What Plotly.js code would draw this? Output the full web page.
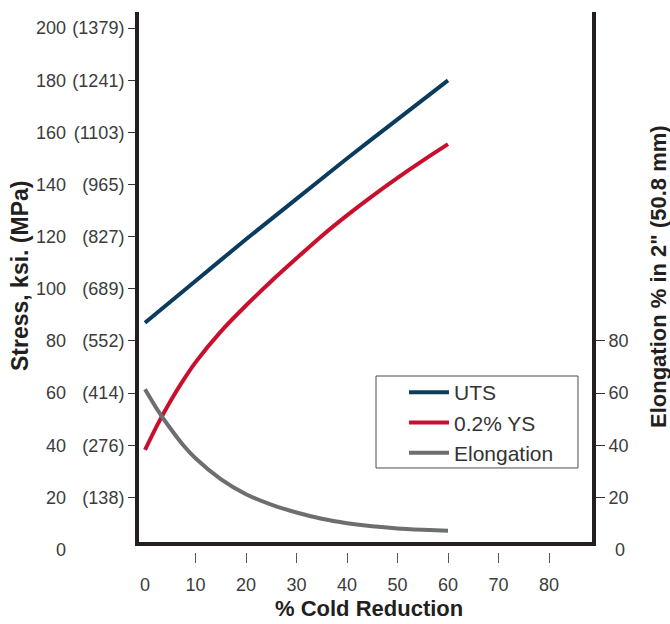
<!DOCTYPE html>
<html>
<head>
<meta charset="utf-8">
<script src="https://cdn.plot.ly/plotly-3.0.1.min.js"></script>
<style>html,body{margin:0;padding:0;background:#fff;}#chart{width:670px;height:624px;}</style>
</head>
<body>
<div id="chart"></div>
<script>
// ---- data ----
const utsX = [0, 10, 20, 30, 40, 50, 60];
const utsY = [87, 103, 119, 134.5, 150, 165, 180];

const ysX = [0, 2.5, 5, 7.5, 10, 15, 20, 25, 30, 35, 40, 45, 50, 55, 60];
const ysY = [38.2, 48, 56.8, 64.7, 71.8, 83.6, 93.6, 102.9, 111.7, 120.3, 128.2, 135.6, 142.6, 149.2, 155.5];

const elX = [0, 2.5, 5, 7.5, 10, 15, 20, 25, 30, 35, 40, 45, 50, 55, 60];
const elY = [61.5, 53.5, 46.5, 40.2, 35, 27, 21.2, 17.2, 14.2, 11.8, 10.1, 8.9, 8.1, 7.6, 7.2];

const xTicks = [10, 20, 30, 40, 50, 60, 70, 80];
const ksiTicks = [0, 20, 40, 60, 80, 100, 120, 140, 160, 180, 200];
const mpaTicks = [20, 40, 60, 80, 100, 120, 140, 160, 180, 200];
const mpaLabels = ["(138)", "(276)", "(414)", "(552)", "(689)", "(827)", "(965)", "(1103)", "(1241)", "(1379)"];
const elTicks = [20, 40, 60, 80];

const seriesNames = ["UTS", "0.2% YS", "Elongation"];
const colors = ["#0b3c5d", "#c8102e", "#6d6e70"];

// ---- chart ----
const FONT = "Liberation Sans, Arial, sans-serif";
const tickFont = {family: FONT, size: 18, color: "#3c3c3c"};
const titleFont = {family: FONT, size: 22, color: "#231f20", weight: "bold"};
const yRange = [-0.959, 206.2];
const xRange = [-1.584, 88.91];

const traces = [
  {x: utsX, y: utsY, name: seriesNames[0], type: "scatter", mode: "lines",
   line: {color: colors[0], width: 4, shape: "spline", smoothing: 0.8}, xaxis: "x", yaxis: "y"},
  {x: ysX, y: ysY, name: seriesNames[1], type: "scatter", mode: "lines",
   line: {color: colors[1], width: 4, shape: "spline", smoothing: 0.8}, xaxis: "x", yaxis: "y"},
  {x: elX, y: elY, name: seriesNames[2], type: "scatter", mode: "lines",
   line: {color: colors[2], width: 4, shape: "spline", smoothing: 0.8}, xaxis: "x", yaxis: "y2"},
  // empty helper traces so the label-only axes get drawn
  {x: [], y: [], type: "scatter", mode: "lines", showlegend: false, hoverinfo: "skip", xaxis: "x", yaxis: "y3"},
  {x: [], y: [], type: "scatter", mode: "lines", showlegend: false, hoverinfo: "skip", xaxis: "x", yaxis: "y4"},
  {x: [], y: [], type: "scatter", mode: "lines", showlegend: false, hoverinfo: "skip", xaxis: "x3", yaxis: "y"}
];

const noGrid = {showgrid: false, zeroline: false, showline: false, fixedrange: true};

const layout = {
  width: 670, height: 624,
  margin: {l: 40, r: 76, t: 12, b: 72},
  paper_bgcolor: "#fff", plot_bgcolor: "#fff",
  showlegend: true,
  legend: {
    x: 0.657, y: 0.3333, xanchor: "left", yanchor: "top",
    bgcolor: "rgba(0,0,0,0)", borderwidth: 0,
    font: {family: FONT, size: 21, color: "#333"},
    itemwidth: 40
  },
  xaxis: Object.assign({}, noGrid, {
    domain: [0.1751, 1], range: xRange, anchor: "free", position: 0,
    tickmode: "array", tickvals: xTicks, ticktext: xTicks.map(String),
    ticks: "outside", ticklen: 10, tickwidth: 1, tickcolor: "#555",
    ticklabelstandoff: 6, tickfont: tickFont
  }),
  xaxis3: Object.assign({}, noGrid, {
    overlaying: "x", range: xRange, anchor: "free", position: 0,
    tickmode: "array", tickvals: [0], ticktext: ["0"], ticks: "",
    ticklabelstandoff: 20, tickfont: tickFont
  }),
  yaxis: Object.assign({}, noGrid, {
    domain: [0, 1], range: yRange, anchor: "x", side: "left",
    tickmode: "array", tickvals: mpaTicks, ticktext: mpaLabels,
    ticks: "outside", ticklen: 8, tickwidth: 1, tickcolor: "#333",
    tickfont: tickFont
  }),
  yaxis3: Object.assign({}, noGrid, {
    overlaying: "y", range: yRange, anchor: "free", position: 0.0469, side: "left",
    tickmode: "array", tickvals: ksiTicks, ticktext: ksiTicks.map(String), ticks: "",
    tickfont: tickFont
  }),
  yaxis2: Object.assign({}, noGrid, {
    overlaying: "y", range: yRange, anchor: "x", side: "right",
    tickmode: "array", tickvals: elTicks, ticktext: elTicks.map(String),
    ticks: "outside", ticklen: 10, tickwidth: 1, tickcolor: "#333",
    tickfont: tickFont
  }),
  yaxis4: Object.assign({}, noGrid, {
    overlaying: "y", range: yRange, anchor: "x", side: "right",
    tickmode: "array", tickvals: [0], ticktext: ["0"], ticks: "",
    ticklabelstandoff: 20, tickfont: tickFont
  }),
  shapes: [
    {type: "line", xref: "x domain", yref: "paper", x0: 0, x1: 0, y0: 1, y1: 0.0111,
     line: {color: "#231f20", width: 4}},
    {type: "line", xref: "x domain", yref: "paper", x0: 1, x1: 1, y0: 1, y1: 0.0111,
     line: {color: "#231f20", width: 4}},
    {type: "line", xref: "x domain", yref: "paper", x0: -0.0044, x1: 1.0044, y0: 0.0148, y1: 0.0148,
     line: {color: "#231f20", width: 4}},
    // legend frame
    {type: "rect", xref: "paper", yref: "paper", x0: 0.6065, x1: 0.9711, y0: 0.3259, y1: 0.1556,
     line: {color: "#4d4d4d", width: 1}, fillcolor: "rgba(0,0,0,0)"}
  ],
  annotations: [
    {text: "Stress, ksi. (MPa)", xref: "paper", yref: "paper", x: -0.0361, y: 0.5111,
     xanchor: "center", yanchor: "middle", textangle: -90, showarrow: false,
     font: {family: FONT, size: 23, color: "#231f20", weight: "bold"}},
    {text: "Elongation % in 2\" (50.8 mm)", xref: "paper", yref: "paper", x: 1.1155, y: 0.5111,
     xanchor: "center", yanchor: "middle", textangle: -90, showarrow: false, font: titleFont},
    {text: "% Cold Reduction", xref: "paper", yref: "paper", x: 0.5939, y: -0.1055,
     xanchor: "center", yanchor: "middle", showarrow: false, font: titleFont}
  ]
};

Plotly.newPlot("chart", traces, layout, {staticPlot: true, displayModeBar: false});
</script>
</body>
</html>
